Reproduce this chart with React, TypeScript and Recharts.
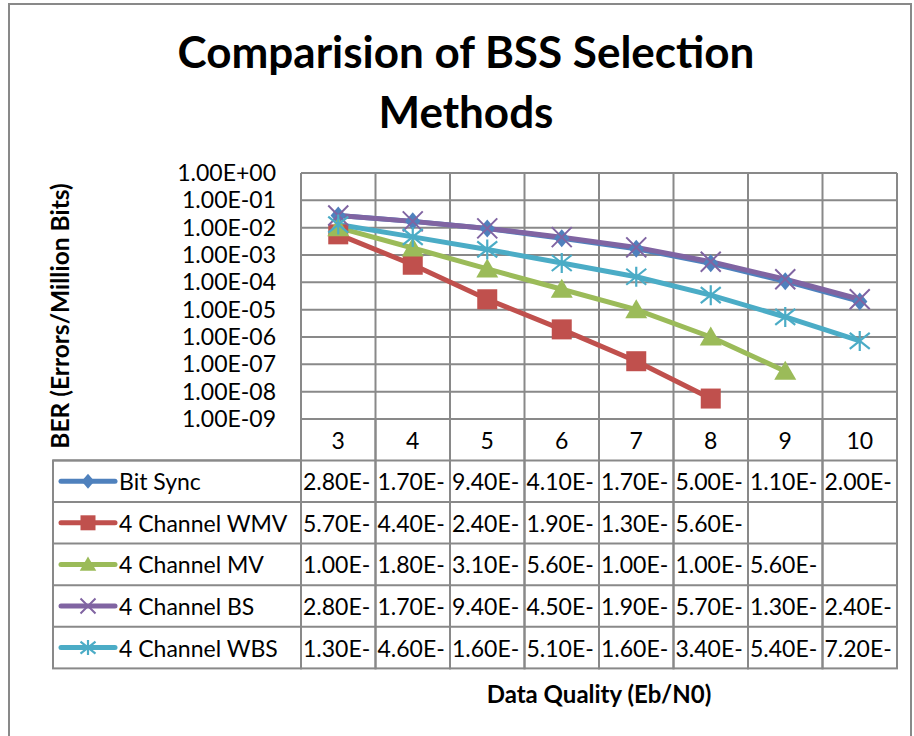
import React from 'react';
import { LineChart, Line, XAxis, YAxis, CartesianGrid, Label } from 'recharts';

// Eb/N0 values shown along the bottom of the chart
const categories = [3, 4, 5, 6, 7, 8, 9, 10];

// BER per series (null = no measurement)
const bitSync = [2.8e-2, 1.7e-2, 9.4e-3, 4.1e-3, 1.7e-3, 5.0e-4, 1.1e-4, 2.0e-5];
const channelWMV = [5.7e-3, 4.4e-4, 2.4e-5, 1.9e-6, 1.3e-7, 5.6e-9, null, null];
const channelMV = [1.0e-2, 1.8e-3, 3.1e-4, 5.6e-5, 1.0e-5, 1.0e-6, 5.6e-8, null];
const channelBS = [2.8e-2, 1.7e-2, 9.4e-3, 4.5e-3, 1.9e-3, 5.7e-4, 1.3e-4, 2.4e-5];
const channelWBS = [1.3e-2, 4.6e-3, 1.6e-3, 5.1e-4, 1.6e-4, 3.4e-5, 5.4e-6, 7.2e-7];

const yTicks = [1, 1e-1, 1e-2, 1e-3, 1e-4, 1e-5, 1e-6, 1e-7, 1e-8, 1e-9];

type Shape = 'diamond' | 'square' | 'triangle' | 'x' | 'star';

const series: { key: string; name: string; color: string; shape: Shape; values: (number | null)[] }[] = [
  { key: 'bitSync', name: 'Bit Sync', color: '#4F81BD', shape: 'diamond', values: bitSync },
  { key: 'wmv', name: '4 Channel WMV', color: '#C0504D', shape: 'square', values: channelWMV },
  { key: 'mv', name: '4 Channel MV', color: '#9BBB59', shape: 'triangle', values: channelMV },
  { key: 'bs', name: '4 Channel BS', color: '#8064A2', shape: 'x', values: channelBS },
  { key: 'wbs', name: '4 Channel WBS', color: '#4BACC6', shape: 'star', values: channelWBS },
];

const data = categories.map((q, i) => {
  const row: Record<string, number | null> = { q };
  series.forEach((s) => {
    row[s.key] = s.values[i];
  });
  return row;
});

const FONT = 'Lato, "DejaVu Sans", sans-serif';
const GRID = '#898989';
const HEAD_H = 41.4;
const ROW_H = 41.6;
const LEGEND_W = 248;

// Excel style scientific format, e.g. 2.80E-02
const sci = (v: number) => {
  const [m, e] = v.toExponential(2).split('e');
  const n = Number(e);
  return `${m}E${n < 0 ? '-' : '+'}${String(Math.abs(n)).padStart(2, '0')}`;
};

const Marker = ({ shape, cx, cy, color, s }: { shape: Shape; cx: number; cy: number; color: string; s: number }) => {
  switch (shape) {
    case 'diamond':
      return <polygon points={`${cx},${cy - s} ${cx + s * 0.85},${cy} ${cx},${cy + s} ${cx - s * 0.85},${cy}`} fill={color} />;
    case 'square':
      return <rect x={cx - s} y={cy - s} width={2 * s} height={2 * s} fill={color} />;
    case 'triangle':
      return <polygon points={`${cx},${cy - s * 1.05} ${cx + s * 1.1},${cy + s * 0.85} ${cx - s * 1.1},${cy + s * 0.85}`} fill={color} />;
    case 'x':
      return (
        <path d={`M${cx - s},${cy - s}L${cx + s},${cy + s}M${cx + s},${cy - s}L${cx - s},${cy + s}`} stroke={color} strokeWidth={2} fill="none" />
      );
    case 'star':
    default:
      return (
        <path
          d={`M${cx - s},${cy - s * 0.8}L${cx + s},${cy + s * 0.8}M${cx + s},${cy - s * 0.8}L${cx - s},${cy + s * 0.8}M${cx},${cy - s}L${cx},${cy + s}`}
          stroke={color}
          strokeWidth={2.2}
          fill="none"
        />
      );
  }
};

// Each x-axis tick draws one column of the data table below the plot
const TableColumn = (props: any) => {
  const { x, y, index, payload, visibleTicksCount } = props;
  const count = visibleTicksCount || categories.length;
  const colW = (props.width || 596) / count;
  const left = x - colW / 2;
  const bottom = y + HEAD_H + series.length * ROW_H;
  const i = categories.indexOf(payload.value);
  return (
    <g fontFamily={FONT} fontSize={23} fill="#000">
      <rect x={left} y={y} width={colW} height={bottom - y} fill="none" stroke={GRID} strokeWidth={2} />
      <text x={x} y={y + HEAD_H / 2} textAnchor="middle" dominantBaseline="central">
        {payload.value}
      </text>
      {series.map((s, r) => {
        const top = y + HEAD_H + r * ROW_H;
        const v = s.values[i];
        return (
          <g key={s.key}>
            <line x1={left} x2={left + colW} y1={top} y2={top} stroke={GRID} strokeWidth={2} />
            {v != null && (
              // the column is too narrow, so Excel cuts the exponent digits
              <text x={left + 2} y={top + ROW_H / 2} dominantBaseline="central">
                {sci(v).slice(0, 6)}
              </text>
            )}
          </g>
        );
      })}
      {index === 0 && (
        <g>
          <rect
            x={left - LEGEND_W}
            y={y + HEAD_H}
            width={LEGEND_W}
            height={series.length * ROW_H}
            fill="none"
            stroke={GRID}
            strokeWidth={2}
          />
          {series.map((s, r) => {
            const top = y + HEAD_H + r * ROW_H;
            const cy = top + ROW_H / 2;
            const kx = left - LEGEND_W + 35;
            return (
              <g key={s.key}>
                <line x1={left - LEGEND_W} x2={left} y1={top} y2={top} stroke={GRID} strokeWidth={2} />
                <line x1={kx - 27} x2={kx + 27} y1={cy} y2={cy} stroke={s.color} strokeWidth={5} strokeLinecap="round" />
                <Marker shape={s.shape} cx={kx} cy={cy} color={s.color} s={7.5} />
                <text x={kx + 31} y={cy} dominantBaseline="central">
                  {s.name}
                </text>
              </g>
            );
          })}
        </g>
      )}
    </g>
  );
};

const YTitle = (props: any) => {
  const { viewBox } = props;
  const cx = 49;
  const cy = viewBox.y + viewBox.height / 2 + 20;
  return (
    <text
      x={cx}
      y={cy}
      transform={`rotate(-90 ${cx} ${cy})`}
      textAnchor="middle"
      dominantBaseline="central"
      fontFamily={FONT}
      fontWeight="bold"
      fontSize={24.5}
      fill="#000"
    >
      BER (Errors/Million Bits)
    </text>
  );
};

export default function App() {
  return (
    <div
      style={{
        position: 'absolute',
        left: 8,
        top: 3,
        width: 904,
        height: 745,
        border: `2px solid ${GRID}`,
        boxSizing: 'border-box',
        background: '#fff',
        overflow: 'hidden',
      }}
    >
      <div
        style={{
          position: 'absolute',
          left: 0,
          top: 16,
          width: 912,
          textAlign: 'center',
          fontFamily: FONT,
          fontWeight: 'bold',
          fontSize: 44,
          lineHeight: '60px',
        }}
      >
        Comparision of BSS Selection
        <br />
        Methods
      </div>
      <div style={{ position: 'absolute', left: 0, top: 0 }}>
        <LineChart width={900} height={735} data={data} margin={{ top: 168, right: 13, bottom: 21, left: 0 }}>
          <CartesianGrid
            stroke={GRID}
            strokeWidth={2}
            verticalCoordinatesGenerator={({ offset }: any) =>
              categories.concat([0]).map((_, i) => offset.left + (i * offset.width) / categories.length)
            }
          />
          <XAxis
            dataKey="q"
            type="category"
            scale="band"
            height={300}
            tickLine={false}
            tickSize={0}
            tickMargin={0}
            axisLine={{ stroke: GRID, strokeWidth: 2 }}
            tick={(p: any) => <TableColumn {...p} />}
            interval={0}
          >
            <Label
              value="Data Quality (Eb/N0)"
              position="insideBottom"
              offset={16}
              style={{ fontFamily: FONT, fontWeight: 'bold', fontSize: 24, fill: '#000' }}
            />
          </XAxis>
          <YAxis
            type="number"
            scale="log"
            domain={[1e-9, 1]}
            ticks={yTicks}
            allowDataOverflow
            width={291}
            tickLine={false}
            tickSize={0}
            tickMargin={25}
            interval={0}
            axisLine={{ stroke: GRID, strokeWidth: 2 }}
            tickFormatter={sci}
            tick={{ fontFamily: FONT, fontSize: 23, fill: '#000' }}
          >
            <Label content={<YTitle />} />
          </YAxis>
          {series.map((s) => (
            <Line
              key={s.key}
              dataKey={s.key}
              name={s.name}
              stroke={s.color}
              strokeWidth={5}
              strokeLinejoin="round"
              isAnimationActive={false}
              connectNulls={false}
              dot={(p: any) =>
                p.cy == null || p.value == null ? (
                  <g key={`${s.key}-${p.index}`} />
                ) : (
                  <Marker key={`${s.key}-${p.index}`} shape={s.shape} cx={p.cx} cy={p.cy} color={s.color} s={s.shape === 'diamond' ? 9 : 10} />
                )
              }
              activeDot={false}
            />
          ))}
        </LineChart>
      </div>
    </div>
  );
}
